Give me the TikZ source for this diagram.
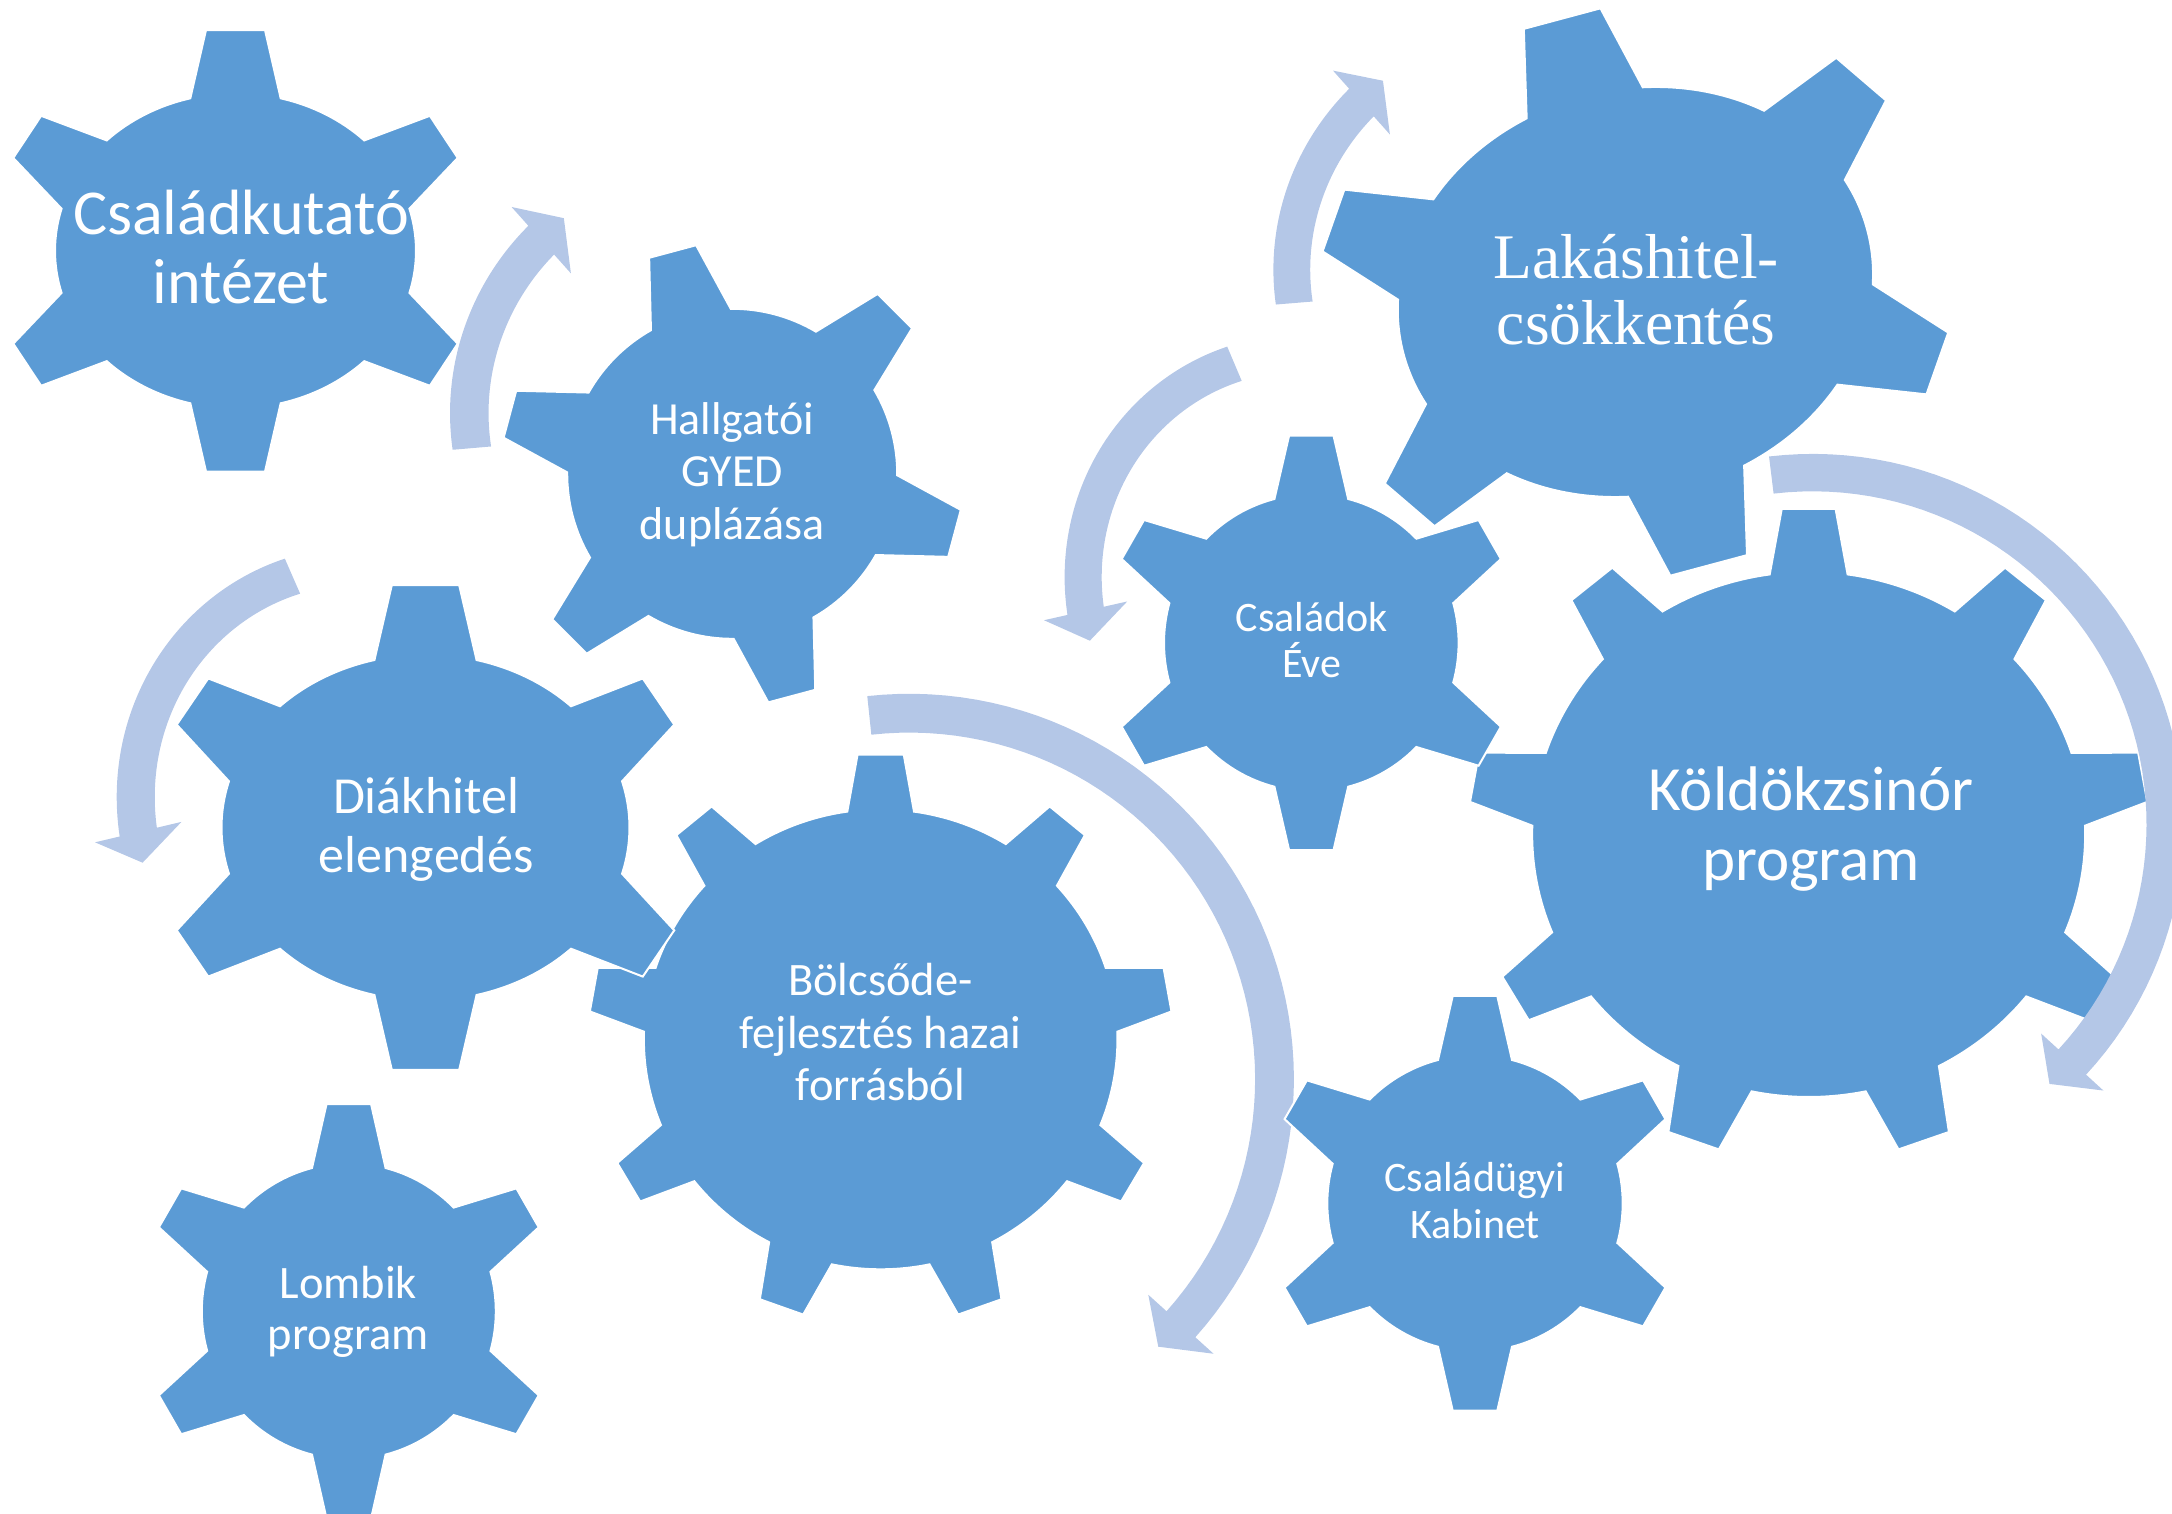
\documentclass[tikz,border=0pt]{standalone}
\usepackage{fontspec}
\setmainfont{Carlito}
\newfontfamily\tnrfont{Liberation Serif}
\definecolor{gearblue}{HTML}{5B9BD5}
\definecolor{arrowblue}{HTML}{B4C7E7}
\tikzset{
  gearshape/.style={fill=gearblue, draw=white, line width=2pt, line join=miter},
  arrowshape/.style={fill=arrowblue},
  gtext/.style={text=white, align=center, inner sep=0pt}
}
\newcommand\gs{\rule[-0.25em]{0pt}{1em}}
% #1 cx, #2 cy, #3 rotation, #4 rx, #5 ry, #6 tooth length, #7 taper, #8 half base angle, #9 teeth
\newcommand\GearPath[9]{%
  \begin{scope}[shift={(#1,#2)},rotate=#3]
    \pgfmathsetmacro\gRx{#4}\pgfmathsetmacro\gRy{#5}%
    \pgfmathsetmacro\gL{#6}\pgfmathsetmacro\gC{#7}%
    \pgfmathsetmacro\gD{#8}\pgfmathsetmacro\gS{360/#9}%
    \pgfmathsetmacro\gQ{#5/#4}%
    \path[gearshape] ({\gRx*cos(-90-\gD)},{\gRy*sin(-90-\gD)})
      \foreach \k [evaluate=\k as \gTa using {-90+(\k-1)*\gS},
                   evaluate=\k as \gNn using {sqrt((\gQ*cos(\gTa))^2+(sin(\gTa))^2)},
                   evaluate=\k as \gNx using {\gQ*cos(\gTa)/\gNn},
                   evaluate=\k as \gNy using {sin(\gTa)/\gNn}] in {1,...,#9}{
        -- ({\gRx*cos(\gTa-\gD)+\gL*\gNx-\gC*\gNy},{\gRy*sin(\gTa-\gD)+\gL*\gNy+\gC*\gNx})
        -- ({\gRx*cos(\gTa+\gD)+\gL*\gNx+\gC*\gNy},{\gRy*sin(\gTa+\gD)+\gL*\gNy-\gC*\gNx})
        -- ({\gRx*cos(\gTa+\gD)},{\gRy*sin(\gTa+\gD)})
        arc[start angle=\gTa+\gD, end angle=\gTa+\gS-\gD, x radius=\gRx, y radius=\gRy]
      } -- cycle;
  \end{scope}}
% #1 center, #2 tail angle, #3 neck angle, #4 tail radius, #5 neck radius, #6 band width, #7 head half width, #8 tip angle, #9 tip radius
\newcommand\CArrow[9]{%
  \begin{scope}[shift={(#1)}]
    \fill[arrowshape]
      plot[domain=#2:#3, samples=60] ({(#4+(#5-#4)*(\x-(#2))/((#3)-(#2))+#6/2)*cos(\x)},{(#4+(#5-#4)*(\x-(#2))/((#3)-(#2))+#6/2)*sin(\x)})
      -- ({(#5+#7)*cos(#3)},{(#5+#7)*sin(#3)})
      -- ({#9*cos(#8)},{#9*sin(#8)})
      -- ({(#5-#7)*cos(#3)},{(#5-#7)*sin(#3)})
      -- plot[domain=#3:#2, samples=60] ({(#4+(#5-#4)*(\x-(#2))/((#3)-(#2))-#6/2)*cos(\x)},{(#4+(#5-#4)*(\x-(#2))/((#3)-(#2))-#6/2)*sin(\x)})
      -- cycle;
  \end{scope}}
\begin{document}
\begin{tikzpicture}[x=1pt,y=1pt,yscale=-1]
\path[use as bounding box, clip] (0,0) rectangle (2172,1514);
% gears and arrows, back to front
\GearPath{235.5}{250.8}{0}{180.5}{157.5}{68.3}{15.7}{14.5}{6}
\CArrow{709,427.8}{175.1}{228.2}{238}{251.7}{38.6}{44.5}{235.3}{255}
\GearPath{732.2}{473.8}{-15}{165}{165}{70.4}{17}{14.5}{6}
\CArrow{379.4,775.1}{246.4}{166.7}{217.1}{247.8}{38.2}{44.4}{159.7}{252.5}
\GearPath{880.65}{1039.3}{0}{236.8}{230}{56.9}{10.25}{8.1}{9}
\GearPath{425.5}{827.5}{0}{204}{173}{75}{17.4}{14.5}{6}
\GearPath{348.8}{1311.3}{0}{147}{148}{64}{14.55}{14.5}{6}
\CArrow{907.3,1077}{-96}{42.1}{363.6}{368.8}{38.8}{44}{47.06}{368.4}
\GearPath{1475}{1203.35}{0}{147.7}{148.1}{64}{14.7}{14.5}{6}
\GearPath{1808.65}{834.4}{0}{276.5}{262.6}{65.6}{12.05}{8.1}{9}
\CArrow{1814.4,826}{-97}{42.47}{353.6}{349.6}{37.4}{42.2}{47.65}{349}
\GearPath{1311.3}{642.85}{0}{147.3}{148.6}{63.3}{14.65}{14.5}{6}
\CArrow{1317,558.7}{247.05}{167.3}{211.7}{237.2}{37.2}{42.65}{160.15}{241.5}
\GearPath{1635.4}{292}{-15}{240}{202.3}{87.2}{20.4}{14.5}{6}
\CArrow{1523.3,284.2}{175.3}{228.3}{229.85}{243.3}{36.9}{42.75}{235.4}{247.2}
% labels
\node[gtext, font={\fontsize{64}{69}\selectfont}] (t1) at (241,252.8) {\gs Családkutató\\\gs intézet};
\node[gtext, font={\fontsize{46}{52.7}\selectfont}] (t2) at (732,475.2) {\gs Hallgatói\\\gs GYED\\\gs duplázása};
\node[gtext, font={\fontsize{52}{59.4}\selectfont}] (t3) at (426.2,830) {\gs Diákhitel\\\gs elengedés};
\node[gtext, font={\fontsize{46.5}{52.8}\selectfont}] (t4) at (880.4,1036.5) {\gs Bölcsőde-\\\gs fejlesztés hazai\\\gs forrásból};
\node[gtext, font={\fontsize{46.5}{51.7}\selectfont}] (t5) at (348.3,1312.5) {\gs Lombik\\\gs program};
\node[gtext, font={\tnrfont\fontsize{63.5}{66.6}\selectfont}] (t6) at (1636.2,295.6) {\gs Lakáshitel-\\\gs csökkentés};
\node[gtext, font={\fontsize{42}{46.7}\selectfont}] (t7) at (1311.7,643.85) {\gs Családok\\\gs Éve};
\node[gtext, font={\fontsize{63}{70}\selectfont}] (t8) at (1811.1,830) {\gs Köldökzsinór\\\gs program};
\node[gtext, font={\fontsize{42}{46.6}\selectfont}] (t9) at (1475,1204.5) {\gs Családügyi\\\gs Kabinet};
\end{tikzpicture}
\end{document}
